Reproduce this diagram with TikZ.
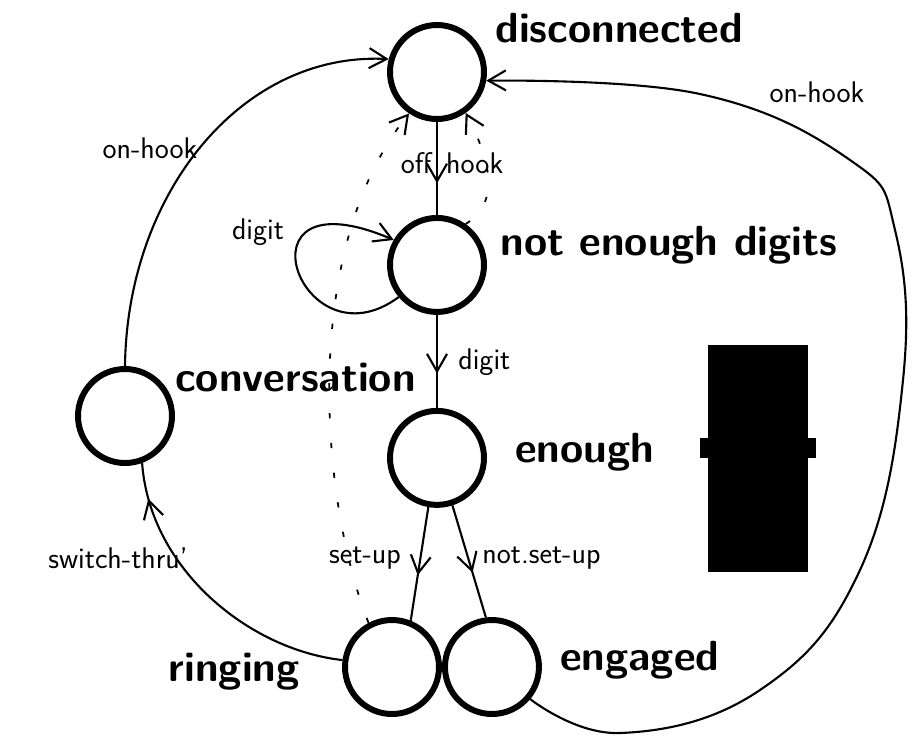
\documentclass[tikz,border=0pt]{standalone}
\usepackage{tikz}
\usetikzlibrary{arrows.meta,positioning,decorations.markings}

\tikzset{
  barb/.tip={Straight Barb[length=3.5mm,width=4mm,line width=1.2pt]},
  midarrow/.style={postaction={decorate},
    decoration={markings,mark=at position #1 with {\arrow{barb}}}}
}

\begin{document}
\begin{tikzpicture}[x=0.02cm,y=-0.02cm,
    state/.style={circle,draw,line width=3.4pt,minimum size=1.88cm,inner sep=0pt},
    statename/.style={font=\fontsize{24}{28}\selectfont\bfseries\sffamily,inner sep=0pt},
    trans/.style={font=\fontsize{17}{20}\selectfont\sffamily,inner sep=0pt},
    edge/.style={line width=1.2pt},
    ghost/.style={line width=1pt,dash pattern=on 3pt off 14pt}
  ]
  \useasboundingbox (0,0) rectangle (916,735);

  % states
  \node[state] (dis) at (437,72) {};
  \node[state,below=1.86cm of dis] (few) {};
  \node[state,below=1.86cm of few] (enough) {};
  \node[state] (conv) at (125,416) {};
  \node[state] (ring) at (392,667) {};
  \node[state,right=0pt of ring] (eng) {};

  % state names
  \node[statename,anchor=west] (disname) at (495,28) {disconnected};
  \node[statename,anchor=west] (fewname) at (500,245) {not enough digits};
  \node[statename,anchor=west] (convname) at (175,378) {conversation};
  \node[statename,anchor=west] (enoughname) at (515,452) {enough};
  \node[statename] (digname) at (758,452) {digits};
  \fill (708,345) rectangle (808,572);
  \fill (700,438) rectangle (816,458);
  \node[statename,anchor=east] (ringname) at (300,672) {ringing};
  \node[statename,anchor=west] (engname) at (560,660) {engaged};

  % transitions
  \draw[edge,-barb] (conv.north) .. controls (127,195) and (240,52) .. (dis.165);
  \draw[edge,-barb] plot[smooth,tension=0.7] coordinates {(eng.-40) (620,733)
    (760,690) (860,570) (903,380) (895,230) (850,160) (700,94) (dis.-10)};
  \draw[edge,midarrow=0.66] (dis) -- (few);
  \draw[edge,-barb] (few.220) .. controls (300,370) and (230,170) .. (few.150);
  \draw[edge,midarrow=0.63] (few) -- (enough);
  \draw[edge,midarrow=0.6] (enough.-100) -- (ring.68);
  \draw[edge,midarrow=0.6] (enough.-72) -- (eng.97);
  \draw[edge,midarrow=0.88] (ring.172) .. controls (250,650) and (150,570) .. (conv.-70);

  % faint erased lines
  \draw[ghost,-barb] (ring.118) .. controls (320,500) and (300,250) .. (dis.236);
  \draw[ghost,-barb] (few.55) .. controls (505,200) and (485,150) .. (dis.-55);

  % transition labels
  \node[trans] (onhookr) at (817,92) {on-hook};
  \node[trans] (onhookl) at (150,148) {on-hook};
  \node[trans] (offhook) at (452,163) {off\,\,\,hook};
  \node[trans] (digloop) at (258,232) {digit};
  \node[trans,anchor=west] (digmid) at (458,362) {digit};
  \node[trans] (setup) at (365,558) {set-up};
  \node[trans,anchor=west] (notsetup) at (482,558) {not.set-up};
  \node[trans] (switch) at (118,558) {switch-thru'};
\end{tikzpicture}
\end{document}
